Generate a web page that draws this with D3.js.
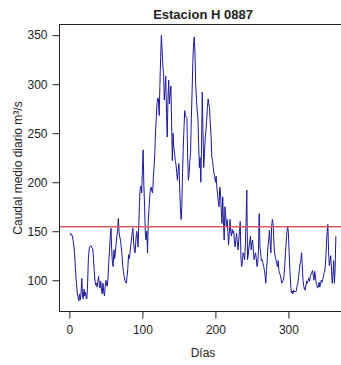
<!DOCTYPE html>
<html>
<head>
<meta charset="utf-8">
<script src="https://cdn.jsdelivr.net/npm/d3@7/dist/d3.min.js"></script>
<style>
  html, body { margin: 0; padding: 0; background: #fff; }
  svg { display: block; }
  text { font-family: "Liberation Sans", Arial, sans-serif; fill: #222; }
</style>
</head>
<body>
<svg id="chart" width="341" height="365"></svg>
<script>
// ---- data ----
const title = "Estacion H 0887";
const xLabel = "Días";
const yLabel = "Caudal medio diario m³/s";
const xTicks = [0, 100, 200, 300];
const yTicks = [100, 150, 200, 250, 300, 350];
const threshold = 154.5;
const caudal = [
  148,146,147,145,141,136,128,115,103,94,
  86,82,79,86,80,88,102,84,81,91,
  84,88,82,81,98,122,131,134,135,135,
  133,132,122,110,100,95,97,93,99,104,
  96,92,99,90,86,97,89,84,94,100,
  95,94,104,119,131,145,153,130,117,114,
  131,122,129,137,145,150,163,150,144,141,
  134,126,115,109,104,100,98,97,104,112,
  126,122,128,135,141,148,153,139,130,128,
  140,150,147,134,155,180,194,196,189,212,
  233,197,175,148,141,150,128,160,172,185,
  193,195,191,189,205,216,230,252,265,280,
  286,284,268,300,328,350,335,318,311,284,
  296,308,270,246,285,304,280,290,298,262,
  222,250,236,230,222,218,210,202,212,219,
  195,175,162,175,210,236,256,273,268,266,
  265,225,202,209,222,230,265,290,321,340,
  348,332,300,286,273,266,240,215,225,200,
  237,292,250,215,229,245,252,263,275,285,
  280,275,260,248,226,222,215,209,206,200,
  206,194,188,180,175,195,189,172,158,185,
  160,141,175,168,155,162,150,136,148,162,
  150,145,152,148,150,140,134,142,148,139,
  131,140,150,160,122,114,120,128,125,121,
  135,160,192,121,126,134,140,145,131,138,
  141,130,121,125,128,122,114,118,130,168,
  134,128,120,121,118,114,111,105,97,110,
  121,135,141,151,138,128,155,162,158,140,
  128,124,121,117,114,120,110,107,105,101,
  97,99,100,105,115,128,140,150,155,148,
  128,110,97,87,89,86,90,88,89,88,
  90,95,97,104,110,117,120,128,115,100,
  94,91,90,95,99,97,100,102,99,104,
  106,108,110,105,100,109,104,97,95,92,
  94,98,93,96,100,98,101,104,108,110,
  120,135,150,157,130,115,120,125,110,97,
  105,120,97,112,145
];
const dias = caudal.map((_, i) => i + 1);

// ---- layout ----
const svg = d3.select("#chart");
const box = { left: 59.5, top: 24.5, right: 346.5, bottom: 311.5 };

function rExtent(vals) {
  const [lo, hi] = d3.extent(vals);
  const pad = (hi - lo) * 0.04;
  return [lo - pad, hi + pad];
}

const x = d3.scaleLinear().domain(rExtent(dias)).range([box.left, box.right]);
const y = d3.scaleLinear().domain(rExtent(caudal)).range([box.bottom, box.top]);

// clip for plot area
svg.append("defs").append("clipPath").attr("id", "clip")
  .append("rect")
  .attr("x", box.left).attr("y", box.top)
  .attr("width", box.right - box.left).attr("height", box.bottom - box.top);

// series line
const line = d3.line().x((d, i) => x(dias[i])).y(d => y(d));
svg.append("path")
  .datum(caudal)
  .attr("clip-path", "url(#clip)")
  .attr("fill", "none")
  .attr("stroke", "#1a1a9c")
  .attr("stroke-width", 1)
  .attr("stroke-linejoin", "round")
  .attr("d", line);

// threshold line
svg.append("line")
  .attr("x1", box.left).attr("x2", box.right)
  .attr("y1", y(threshold)).attr("y2", y(threshold))
  .attr("stroke", "#d45b63")
  .attr("stroke-width", 1.5);

// box
svg.append("rect")
  .attr("x", box.left).attr("y", box.top)
  .attr("width", box.right - box.left).attr("height", box.bottom - box.top)
  .attr("fill", "none").attr("stroke", "#222").attr("stroke-width", 1);

// axes
const yAxis = svg.append("g")
  .attr("transform", `translate(${box.left},0)`)
  .call(d3.axisLeft(y).tickValues(yTicks).tickSize(7).tickPadding(5));
const xAxis = svg.append("g")
  .attr("transform", `translate(0,${box.bottom})`)
  .call(d3.axisBottom(x).tickValues(xTicks).tickSize(7).tickPadding(7));
[yAxis, xAxis].forEach(g => {
  g.select(".domain").remove();
  g.selectAll(".tick line").attr("stroke", "#222");
  g.selectAll(".tick text")
    .attr("fill", "#222")
    .style("font-family", '"Liberation Sans", Arial, sans-serif')
    .style("font-size", "12px");
});

// title
svg.append("text")
  .attr("x", (box.left + box.right) / 2)
  .attr("y", 19)
  .attr("text-anchor", "middle")
  .style("font-size", "13px")
  .style("font-weight", "bold")
  .text(title);

// x label
svg.append("text")
  .attr("x", (box.left + box.right) / 2)
  .attr("y", 357)
  .attr("text-anchor", "middle")
  .style("font-size", "12px")
  .text(xLabel);

// y label
svg.append("text")
  .attr("transform", `translate(22,${(box.top + box.bottom) / 2}) rotate(-90)`)
  .attr("text-anchor", "middle")
  .style("font-size", "12px")
  .text(yLabel);
</script>
</body>
</html>
